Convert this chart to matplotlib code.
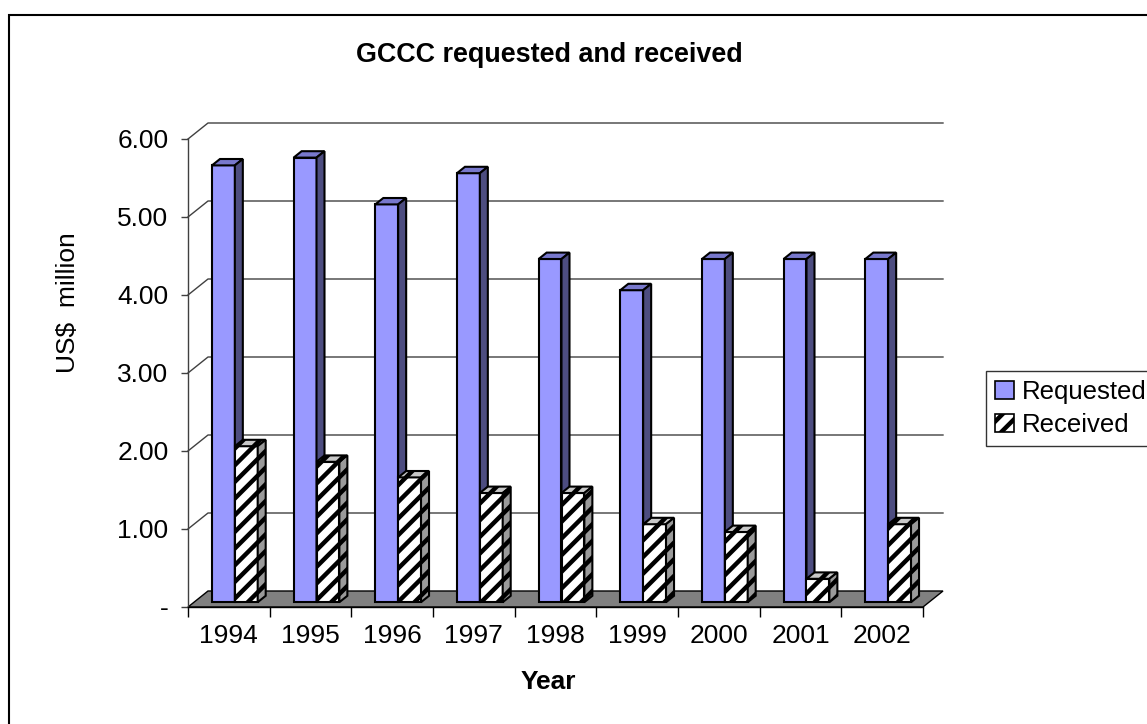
import matplotlib
matplotlib.use("Agg")
import matplotlib.pyplot as plt
from matplotlib.patches import Polygon, Patch, Rectangle
import numpy as np

plt.rcParams['font.family'] = ['Liberation Sans', 'DejaVu Sans']
plt.rcParams['hatch.linewidth'] = 3.2

years = ['1994', '1995', '1996', '1997', '1998', '1999', '2000', '2001', '2002']
requested = [5.6, 5.7, 5.1, 5.5, 4.4, 4.0, 4.4, 4.4, 4.4]
received = [2.0, 1.8, 1.6, 1.4, 1.4, 1.0, 0.9, 0.3, 1.0]
yticks = [0, 1, 2, 3, 4, 5, 6]
yticklabels = ['-', '1.00', '2.00', '3.00', '4.00', '5.00', '6.00']
series_names = ['Requested', 'Received']
title = 'GCCC requested and received'
ylabel = 'US$  million'
xlabel = 'Year'

W, H = 1147, 724
fig = plt.figure(figsize=(W / 100, H / 100), dpi=100)
FS = 19

# outer chart border (extends past right/bottom edges)
fig.patches.append(Rectangle((9 / W, -0.1), 1.2, 1 - 15 / H + 0.1, transform=fig.transFigure,
                             fill=False, edgecolor='black', lw=1.5, clip_on=False))

ax = fig.add_axes([188 / W, (H - 607) / H, 735 / W, 468 / H])
n = len(years)
ax.set_xlim(0, n)
ax.set_ylim(0, 6)
ax.set_facecolor('none')

# depth offsets (pixels -> data units)
DX = 20 * n / 735
DY = 16 * 6 / 468

# gridlines on side + back wall
for v in yticks[1:]:
    ax.plot([0, DX, n + DX], [v, v + DY, v + DY], color='#404040', lw=1.0, zorder=1, clip_on=False)

# floor
ax.add_patch(Polygon([(0, 0), (n, 0), (n + DX, DY), (DX, DY)], closed=True,
                     facecolor='#808080', edgecolor='black', lw=1.0, zorder=2, clip_on=False))

BW = 0.28
d0, d1 = 0.3, 0.7
bx = d0 * DX
by = d0 * DY
ddx = (d1 - d0) * DX
ddy = (d1 - d0) * DY
idx = np.arange(n)

z = 3
for i in range(n):
    for s, (vals, front, top, side, hatch) in enumerate([
            (requested, '#9999FF', '#7878CC', '#4D4D80', None),
            (received, 'white', '#C8C8C8', '#9A9A9A', '//')]):
        x0 = idx[i] + 0.5 - BW + s * BW + bx
        x1 = x0 + BW
        h = vals[i]
        ax.bar([x0 + BW / 2], [h], width=BW, bottom=by, facecolor=front, edgecolor='black',
               lw=1.5, hatch=hatch, zorder=z, clip_on=False)
        ax.add_patch(Polygon([(x0, by + h), (x1, by + h), (x1 + ddx, by + h + ddy), (x0 + ddx, by + h + ddy)],
                             closed=True, facecolor=top, edgecolor='black', lw=1.5, hatch=hatch,
                             zorder=z + 0.1, clip_on=False))
        ax.add_patch(Polygon([(x1, by), (x1, by + h), (x1 + ddx, by + h + ddy), (x1 + ddx, by + ddy)],
                             closed=True, facecolor=side, edgecolor='black', lw=1.5, hatch=hatch,
                             zorder=z + 0.2, clip_on=False))
        z += 1

for sp in ['top', 'right']:
    ax.spines[sp].set_visible(False)
ax.spines['left'].set_color('#404040')
ax.spines['left'].set_linewidth(1.0)
ax.spines['bottom'].set_color('black')
ax.spines['bottom'].set_linewidth(1.0)
ax.spines['bottom'].set_zorder(2.5)

ax.set_yticks(yticks)
ax.set_yticklabels(yticklabels, fontsize=FS)
ax.tick_params(axis='y', length=5, width=1, color='#404040', pad=9)
ax.set_xticks(np.arange(n + 1))
ax.set_xticklabels([''] * (n + 1))
ax.tick_params(axis='x', which='major', length=7, width=1, color='black')
ax.set_xticks(idx + 0.5, minor=True)
ax.set_xticklabels(years, minor=True, fontsize=FS)
ax.tick_params(axis='x', which='minor', length=0, pad=12)

fig.text(549.5 / W, 1 - 55 / H, title, ha='center', va='center', fontsize=19.4, fontweight='bold')
fig.text(68 / W, 1 - 303 / H, ylabel, ha='center', va='center', rotation=90, fontsize=FS)
fig.text(548 / W, 1 - 682 / H, xlabel, ha='center', va='center', fontsize=FS, fontweight='bold')

handles = [Patch(facecolor='#9999FF', edgecolor='black', lw=1.2),
           Patch(facecolor='white', edgecolor='black', hatch='//', lw=1.2)]
leg = fig.legend(handles, series_names, loc='upper left', bbox_to_anchor=(986 / W, 1 - 371 / H),
                 borderaxespad=0, fontsize=18.5, frameon=True, fancybox=False, edgecolor='black',
                 handlelength=0.75, handleheight=0.75, handletextpad=0.3, borderpad=0.35,
                 labelspacing=0.35)
leg.get_frame().set_linewidth(1.0)

fig.savefig('out.png', dpi=100, facecolor='white')
